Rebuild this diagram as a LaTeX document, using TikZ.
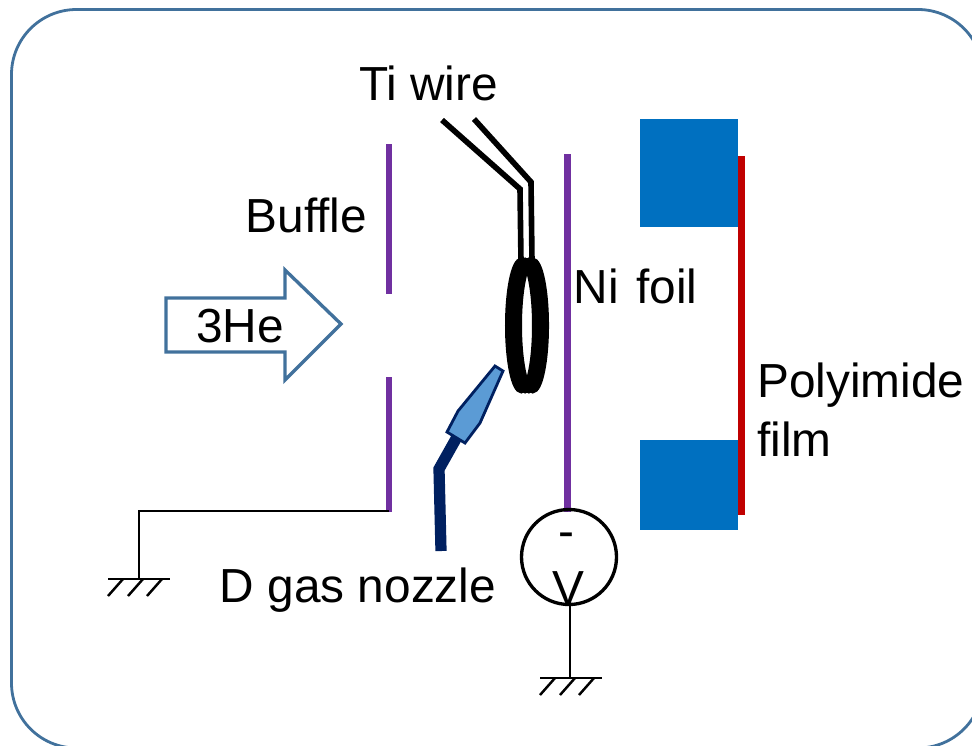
\documentclass[tikz,border=0pt]{standalone}
\usepackage{fontspec}
\setmainfont{Liberation Sans}
\definecolor{framecol}{RGB}{65,113,156}
\definecolor{foilcol}{RGB}{112,48,160}
\definecolor{blockcol}{RGB}{0,112,192}
\definecolor{filmcol}{RGB}{192,0,0}
\definecolor{nozzlecol}{RGB}{0,32,96}
\definecolor{tipcol}{RGB}{91,155,213}
\tikzset{
  lbl/.style={font=\fontsize{27.2}{32}\selectfont,inner sep=0pt,align=left},
  earth/.pic={
    \draw [line width=1.6pt] (-31,0)--(31,0);
    \foreach \i in {-16,4,23} \draw [line width=1.4pt] (\i+0,0)--++(-15,17);
  }
}
\begin{document}
\begin{tikzpicture}[x=0.02cm,y=-0.02cm]
\useasboundingbox (0,0) rectangle (972,745);
\clip (0,0) rectangle (972,745);
\draw [framecol,line width=1.6pt,rounded corners=1.3cm] (11.5,9.5) rectangle (983,748);
% buffle and foil
\draw [foilcol,line width=3.6pt] (389,144)--(389,294);
\draw [foilcol,line width=3.6pt] (389,377)--(389,512);
\draw [foilcol,line width=3.8pt] (567.5,154)--(567.5,512);
% blocks and film
\fill [filmcol] (738,156) rectangle (745,515);
\fill [blockcol] (640,119) rectangle (738,227);
\fill [blockcol] (640,440) rectangle (738,530);
% 3He arrow
\draw [framecol,line width=1.9pt,fill=white,miter limit=10] (166,298)--(285,298)--(285,270)--(341,324)--(285,380)--(285,352)--(166,352)--cycle;
% Ti wire
\draw [line width=3.2pt] (442,120)--(520,189)--(521,262);
\draw [line width=3.2pt] (474,119)--(531,182)--(532,262);
\foreach \i in {0,1,2,3}
  \draw [line width=3.2pt] (521.3+\i*3.8,325.5) ellipse (13.5 and 65);
% nozzle
\draw [nozzlecol,line width=6.4pt] (441,551)--(439,469)--(457,437);
\draw [nozzlecol,line width=1.6pt,fill=tipcol] (447,432)--(458,411)--(495,366)--(503,371)--(480,423)--(465,443)--cycle;
% ground wires
\draw [line width=1.5pt] (389,511)--(139,511)--(139,579);
\pic at (139,579) {earth};
\draw [line width=1.9pt] (569,557) circle (47.5);
\draw [line width=1.5pt] (570,600)--(570,678);
\pic at (571,678) {earth};
% labels
\node [lbl,anchor=base] (tiwire) at (428.5,100) {Ti wire};
\node [lbl,anchor=base] (buffle) at (306.5,232) {Buffle};
\node [lbl,anchor=base] (nifoil) at (635.5,303) {Ni\hspace{2.5pt} foil};
\node [lbl,anchor=base] (he) at (240,342) {3He};
\node [lbl,anchor=base west] (polyimide) at (757,397) {Polyimide};
\node [lbl,anchor=base west] (film) at (757,456) {film};
\node [lbl,anchor=base] (nozzle) at (358,602) {D gas nozzle};
\node [lbl,anchor=base] (minus) at (566,547) {-};
\node [lbl,anchor=base] (volt) at (568,604) {V};
\end{tikzpicture}
\end{document}
